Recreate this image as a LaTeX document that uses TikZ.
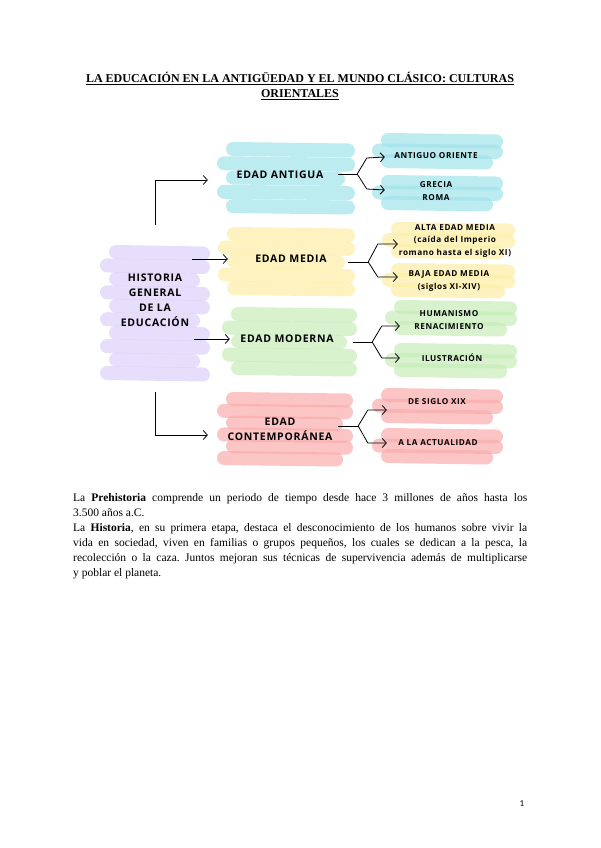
\documentclass[tikz,border=0pt]{standalone}
\usepackage{fontspec}
\setmainfont{Liberation Serif}
\newfontfamily\mapfont{Open Sans}[LetterSpace=7]
\newfontfamily\numfont{Carlito}
\usetikzlibrary{arrows.meta}
\frenchspacing

\definecolor{paintcyan}{RGB}{160,226,234}
\definecolor{paintyellow}{RGB}{253,238,165}
\definecolor{paintgreen}{RGB}{198,236,184}
\definecolor{paintred}{RGB}{250,172,172}
\definecolor{paintpurple}{RGB}{220,208,248}

% band of marker strokes: colour, left, right, top, bottom
\newcommand{\paintband}[5]{%
  \pgfmathtruncatemacro{\nstk}{max(1,round((#5-#4-14)/13))}
  \foreach \k in {0,...,\nstk}{
    \pgfmathsetmacro{\yk}{#4+7+(#5-#4-14)*\k/\nstk}
    \pgfmathsetmacro{\xa}{#2+7+(mod(\k,2)==1 ? 0 : 9)}
    \pgfmathsetmacro{\xb}{#3-7-(mod(\k,3)==2 ? 10 : 0)}
    \draw[brush,#1] (\xa,\yk) -- (\xb,\yk+1.5);
  }}

\begin{document}
\begin{tikzpicture}[x=1pt,y=-1pt,>={Straight Barb[length=4pt,width=9pt]},
  link/.style={line width=0.8pt},
  brush/.style={line width=14pt,line cap=round,opacity=.7},
  era/.style={font=\mapfont\bfseries\fontsize{10.5}{15}\selectfont,align=center,inner sep=0pt},
  sub/.style={font=\mapfont\bfseries\fontsize{8.2}{12.5}\selectfont,align=center,inner sep=0pt}]
  \useasboundingbox (0,0) rectangle (600,848);

  % title
  \node[font=\bfseries\fontsize{12}{15}\selectfont,align=center] (titulo) at (300,86)
    {\underline{LA EDUCACIÓN EN LA ANTIGÜEDAD Y EL MUNDO CLÁSICO: CULTURAS}\\
     \underline{ORIENTALES}};

  % paint
  \paintband{paintpurple}{100}{210}{245}{380}
  \paintband{paintcyan}{217}{355}{142}{213}
  \paintband{paintyellow}{218}{355}{227}{295}
  \paintband{paintgreen}{222}{357}{307}{375}
  \paintband{paintred}{217}{353}{392}{465}
  \paintband{paintcyan}{372}{503}{133}{168}
  \paintband{paintcyan}{372}{503}{175}{210}
  \paintband{paintyellow}{382}{515}{222}{258}
  \paintband{paintyellow}{382}{515}{263}{297}
  \paintband{paintgreen}{385}{517}{300}{335}
  \paintband{paintgreen}{385}{517}{343}{377}
  \paintband{paintred}{372}{503}{388}{423}
  \paintband{paintred}{372}{503}{428}{463}

  % nodes
  \node[era,minimum width=74pt,minimum height=100pt] (hist) at (155,300)
    {HISTORIA\\GENERAL\\DE LA\\EDUCACIÓN};
  \node[era,minimum width=144pt] (antigua) at (280,175) {EDAD ANTIGUA};
  \node[era,minimum width=126pt] (media) at (291,259) {EDAD MEDIA};
  \node[era,minimum width=114pt] (moderna) at (287,339) {EDAD MODERNA};
  \node[era,minimum width=144pt] (contemp) at (280,429) {EDAD\\CONTEMPORÁNEA};

  \node[sub,minimum width=102pt] (oriente) at (436,156) {ANTIGUO ORIENTE};
  \node[sub,minimum width=102pt] (grecia) at (436,191) {GRECIA\\ROMA};
  \node[sub,minimum width=114pt] (alta) at (455,241)
    {ALTA EDAD MEDIA\\(caída del Imperio\\romano hasta el siglo XI)};
  \node[sub,minimum width=102pt] (baja) at (449,281) {BAJA EDAD MEDIA\\(siglos XI-XIV)};
  \node[sub,minimum width=98pt] (human) at (449,320) {HUMANISMO\\RENACIMIENTO};
  \node[sub,minimum width=104pt] (ilustr) at (452,358) {ILUSTRACIÓN};
  \node[sub,minimum width=100pt] (siglo) at (437,402) {DE SIGLO XIX};
  \node[sub,minimum width=102pt] (actual) at (438,443) {A LA ACTUALIDAD};

  % connectors
  \draw[link,->] ([yshift=25pt]hist.north) |- ([yshift=-5pt]antigua.west);
  \draw[link,->] ([yshift=41pt]hist.east) -- (media.west);
  \draw[link,->] ([xshift=2pt,yshift=-39pt]hist.east) -- (moderna.west);
  \draw[link,->] ([yshift=-42pt]hist.south) |- ([yshift=-6pt]contemp.west);

  \draw[link] ([xshift=-14pt,yshift=1pt]antigua.east) -- ++(19,0) coordinate (fa);
  \draw[link,->] (fa) -- ([xshift=-18pt,yshift=-2pt]oriente.west) -- ([yshift=-1pt]oriente.west);
  \draw[link,->] (fa) -- ([xshift=-18pt,yshift=2pt]grecia.west) -- ([yshift=1pt]grecia.west);

  \draw[link] ([xshift=-6pt,yshift=-3pt]media.east) -- ++(20,0) coordinate (fm);
  \draw[link,->] (fm) -- ([xshift=-20pt,yshift=-3pt]alta.west) -- ([yshift=-3pt]alta.west);
  \draw[link,->] (fm) -- ([xshift=-20pt,yshift=4pt]baja.west) -- ([yshift=4pt]baja.west);

  \draw[link] ([xshift=9pt,yshift=-3pt]moderna.east) -- ++(19,0) coordinate (fo);
  \draw[link,->] (fo) -- ([xshift=-18pt,yshift=-6pt]human.west) -- ([yshift=-6pt]human.west);
  \draw[link,->] (fo) -- ([xshift=-18pt]ilustr.west) -- (ilustr.west);

  \draw[link] ([xshift=-14pt,yshift=3pt]contemp.east) -- ++(20,0) coordinate (fc);
  \draw[link,->] (fc) -- ([xshift=-19pt,yshift=-8pt]siglo.west) -- ([yshift=-8pt]siglo.west);
  \draw[link,->] (fc) -- ([xshift=-19pt]actual.west) -- (actual.west);

  % text
  \node[anchor=north west,text width=454pt,align=justify,inner sep=0pt,
    font=\fontsize{11.5}{15}\selectfont] (texto) at (73,493)
    {La \textbf{Prehistoria} comprende un periodo de tiempo desde hace 3 millones de años hasta los\linebreak
     3.500 años a.C.\\
     La \textbf{Historia}, en su primera etapa, destaca el desconocimiento de los humanos sobre vivir la\linebreak
     vida en sociedad, viven en familias o grupos pequeños, los cuales se dedican a la pesca, la\linebreak
     recolección o la caza. Juntos mejoran sus técnicas de supervivencia además de multiplicarse\linebreak
     y poblar el planeta.};

  \node[font=\numfont\fontsize{9}{11}\selectfont] (pagina) at (522,804) {1};
\end{tikzpicture}
\end{document}
